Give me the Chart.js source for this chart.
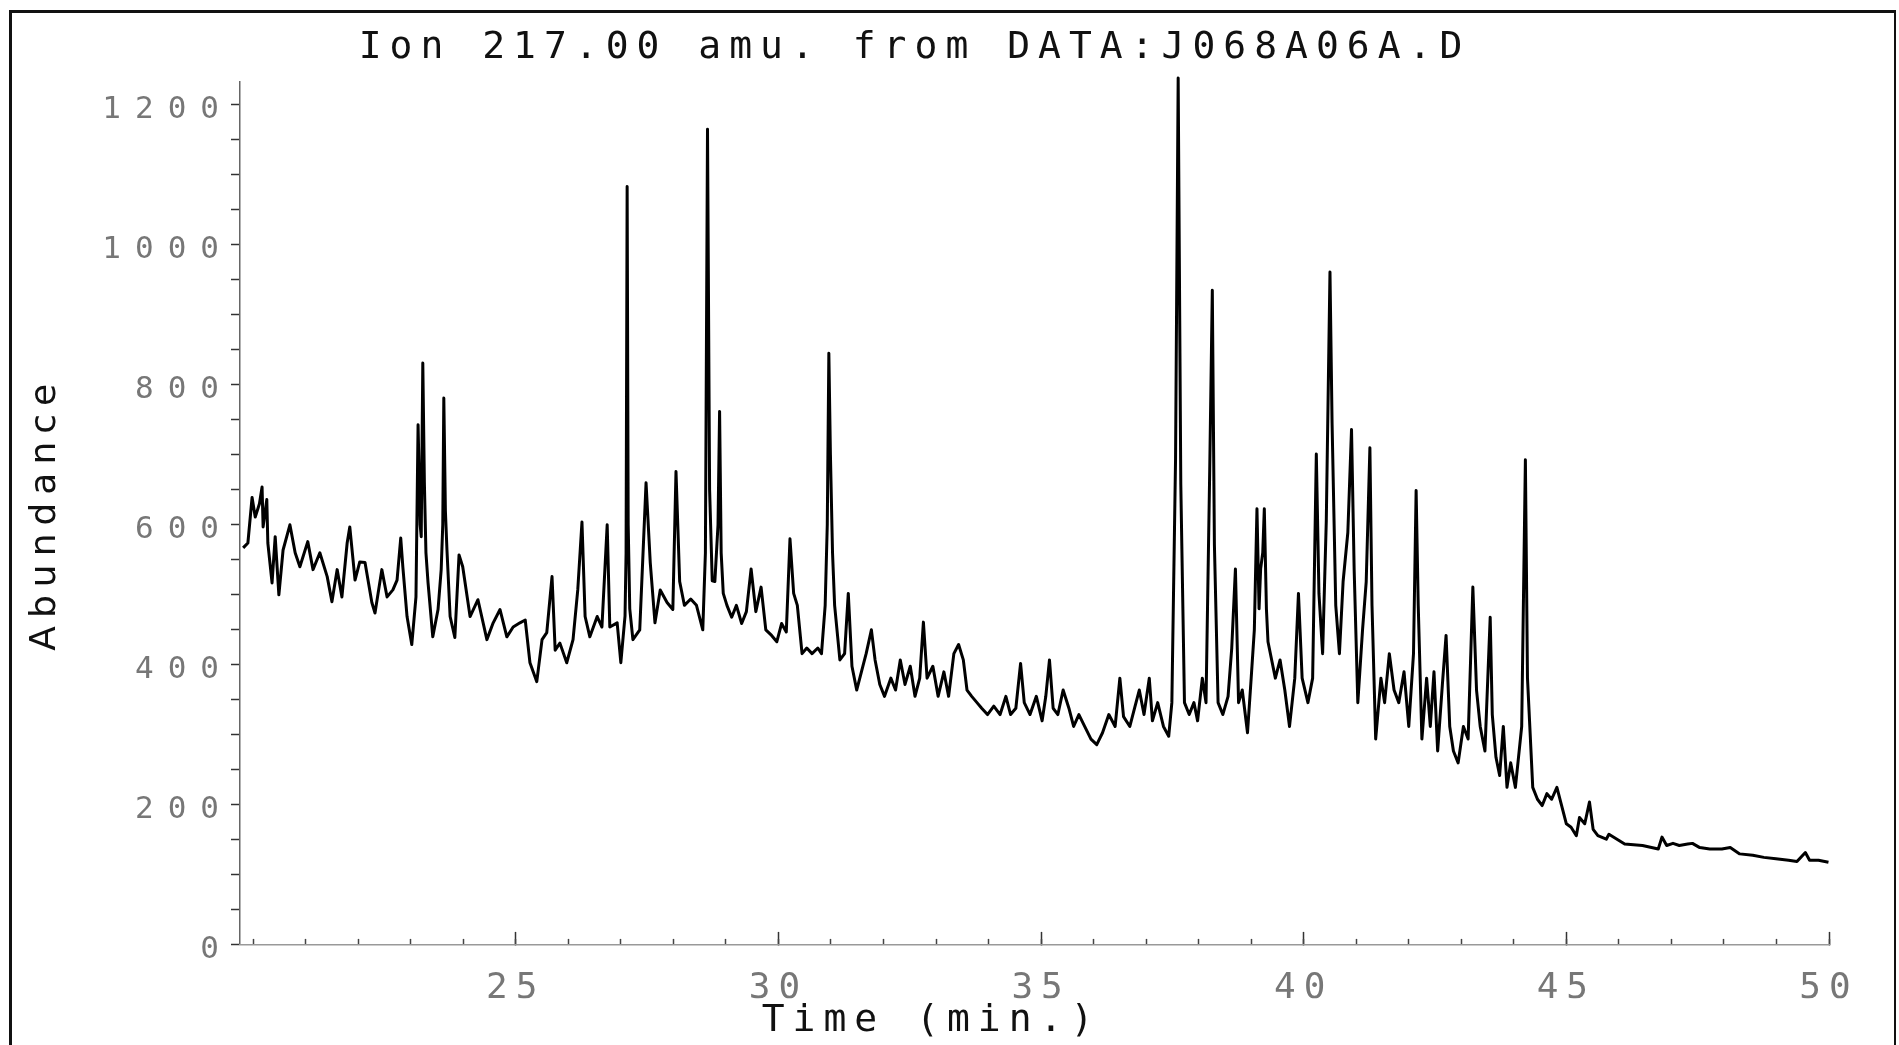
<!DOCTYPE html>
<html>
<head>
<meta charset="utf-8">
<script src="https://cdn.jsdelivr.net/npm/chart.js@4/dist/chart.umd.min.js"></script>
<style>
  html, body { margin: 0; padding: 0; background: #fff; }
  #wrap { position: relative; width: 1899px; height: 1045px; overflow: hidden; background: #fff; }
  #c { position: absolute; left: 0; top: 0; }
  #frame { position: absolute; left: 9px; top: 10px; width: 1882px; height: 1100px;
           border-left: 3px solid #111; border-top: 3px solid #111; border-right: 2px solid #111;
           pointer-events: none; }
</style>
</head>
<body>
<div id="wrap">
  <canvas id="c" width="1899" height="1045"></canvas>
  <div id="frame"></div>
</div>
<script>
// ---------------- data ----------------
const chartTitle = 'Ion 217.00 amu. from DATA:J068A06A.D';
const yAxisTitle = 'Abundance';
const xAxisTitle = 'Time (min.)';
const xMin = 19.75, xMax = 50;
const yMin = 0, yMax = 1233;
const xLabelTicks = [25, 30, 35, 40, 45, 50];
const yLabelTicks = [0, 200, 400, 600, 800, 1000, 1200];

// segment 1: 19.8 - 28.1 min
const time1 = [19.81,19.90,19.98,20.04,20.12,20.17,20.19,20.26,20.28,20.36,
               20.42,20.49,20.57,20.70,20.80,20.89,21.04,21.14,21.27,21.41,
               21.50,21.60,21.69,21.79,21.84,21.94,22.03,22.13,22.26,22.32,
               22.45,22.55,22.66,22.74,22.81,22.85,22.93,23.02,23.10,23.14,
               23.18,23.20,23.23,23.26,23.29,23.33,23.42,23.52,23.58,23.61,
               23.63,23.66,23.69,23.75,23.84,23.92,23.99,24.13,24.28,24.45,
               24.57,24.70,24.83,24.95,25.08,25.18,25.27,25.40,25.50,25.59,
               25.69,25.75,25.84,25.97,26.09,26.18,26.26,26.32,26.41,26.55,
               26.64,26.74,26.79,26.93,27.00,27.08,27.10,27.12,27.14,27.17,
               27.23,27.36,27.48,27.56,27.65,27.75,27.88,27.99,28.05];
const abund1 = [567,574,639,611,630,654,597,636,574,517,
                583,500,564,600,560,540,576,536,560,526,
                490,536,497,574,597,521,547,546,489,474,
                536,497,507,521,581,540,469,429,497,743,
                600,583,831,660,560,517,440,479,536,600,
                781,620,564,469,439,557,540,469,493,436,
                460,479,440,454,460,464,403,376,436,446,
                526,421,431,403,436,507,604,469,440,469,
                454,600,454,460,403,470,560,1083,600,480,
                436,450,660,546,460,507,489,479,676];

// segment 2: 28.1 - 37.5 min
const time2 = [28.12,28.21,28.33,28.44,28.56,28.61,28.65,28.69,28.74,28.79,
               28.85,28.88,28.91,28.95,29.02,29.11,29.20,29.30,29.39,29.48,
               29.57,29.67,29.76,29.87,29.97,30.06,30.15,30.22,30.29,30.36,
               30.45,30.54,30.64,30.75,30.82,30.89,30.93,30.96,30.99,31.03,
               31.07,31.17,31.26,31.33,31.40,31.49,31.58,31.67,31.77,31.84,
               31.93,32.02,32.14,32.23,32.32,32.41,32.51,32.60,32.69,32.76,
               32.83,32.94,33.04,33.15,33.24,33.34,33.43,33.52,33.59,33.68,
               33.78,33.87,33.98,34.10,34.22,34.33,34.42,34.52,34.61,34.68,
               34.79,34.91,35.02,35.09,35.16,35.23,35.32,35.42,35.53,35.62,
               35.72,35.83,35.95,36.06,36.17,36.29,36.41,36.50,36.57,36.69,
               36.78,36.87,36.96,37.06,37.12,37.22,37.33,37.43,37.49];
const abund2 = [519,485,494,485,450,560,1165,650,520,519,
                600,762,560,502,485,468,485,459,476,537,
                476,511,450,442,433,459,447,580,502,485,
                416,424,416,424,416,485,600,845,700,560,
                485,407,416,502,398,364,390,416,450,407,
                372,355,381,364,407,372,398,355,381,461,
                381,398,355,390,355,416,429,407,364,355,
                346,338,329,341,329,355,329,338,402,346,
                329,355,320,355,407,338,329,364,338,312,
                329,312,294,286,303,329,312,381,326,312,
                338,364,329,381,320,346,312,298,346];

// segment 3: 37.5 - 44.3 min
const time3 = [37.56,37.61,37.66,37.73,37.82,37.91,37.98,38.07,38.14,38.21,
               38.26,38.30,38.37,38.46,38.56,38.63,38.70,38.76,38.83,38.93,
               39.00,39.06,39.11,39.15,39.18,39.22,39.25,39.29,39.32,39.39,
               39.46,39.55,39.64,39.73,39.83,39.90,39.97,40.08,40.17,40.24,
               40.29,40.36,40.43,40.50,40.54,40.61,40.68,40.75,40.84,40.91,
               40.96,41.03,41.12,41.19,41.26,41.30,41.37,41.47,41.54,41.63,
               41.72,41.81,41.91,42.00,42.09,42.14,42.18,42.25,42.34,42.41,
               42.48,42.55,42.64,42.71,42.78,42.85,42.94,43.04,43.13,43.22,
               43.29,43.36,43.45,43.55,43.59,43.66,43.73,43.80,43.87,43.94,
               44.03,44.15,44.22,44.26];
const abund3 = [693,1238,658,346,329,346,320,381,346,675,
                935,571,346,329,355,424,537,346,364,303,
                381,450,623,480,537,560,623,480,433,407,
                381,407,364,312,381,502,381,346,381,701,
                502,416,606,961,745,485,416,519,589,736,
                537,346,450,519,710,485,294,381,346,416,
                364,346,390,312,416,649,485,294,381,312,
                390,277,372,442,312,277,260,312,294,511,
                364,312,277,468,329,268,242,312,225,260,
                225,312,693,381];

// segment 4: 44.3 - 50 min
const time4 = [44.36,44.45,44.54,44.63,44.72,44.82,44.91,45.00,45.09,45.19,
               45.25,45.35,45.44,45.51,45.60,45.76,45.81,46.11,46.45,46.75,
               46.82,46.91,47.03,47.15,47.31,47.40,47.54,47.73,47.96,48.12,
               48.30,48.55,48.76,48.99,49.23,49.39,49.55,49.63,49.80,49.99];
const abund4 = [225,208,199,216,208,225,199,173,168,156,
                182,173,204,165,156,151,158,144,142,137,
                154,142,145,142,144,145,139,137,137,139,
                130,128,125,123,121,119,132,121,121,118];

// ---------------- build ----------------
const times = time1.concat(time2, time3, time4);
const values = abund1.concat(abund2, abund3, abund4);
if (times.length !== values.length) console.error('length mismatch', times.length, values.length);
const points = times.map((t, i) => ({ x: t, y: values[i] }));

function withSpacing(scale, px) {
  if (scale._lsPatched) return;
  const orig = scale.drawLabels.bind(scale);
  scale.drawLabels = function (area) {
    const ctx = this.ctx;
    const prev = ctx.letterSpacing;
    ctx.letterSpacing = px + 'px';
    orig(area);
    ctx.letterSpacing = prev;
  };
  scale._lsPatched = true;
}

const spacingPlugin = {
  id: 'spacing',
  beforeDraw(chart) {
    chart.ctx.letterSpacing = '8px';
    // nudge the bottom caption (x-axis caption) slightly right, as in the plot
    const cap = chart.boxes.find(b => b.options && b.options.text === xAxisTitle);
    if (cap && !cap._shifted) {
      const d = cap.draw.bind(cap);
      cap.draw = function (area) {
        const ctx = chart.ctx;
        ctx.save(); ctx.translate(17, 0); d(area); ctx.restore();
      };
      cap._shifted = true;
    }
  }
};

const MONO = 'DejaVu Sans Mono';

new Chart(document.getElementById('c'), {
  type: 'line',
  data: {
    datasets: [{
      data: points,
      borderColor: '#000',
      borderWidth: 3,
      borderJoinStyle: 'round',
      pointRadius: 0,
      tension: 0,
      clip: false,
      fill: false
    }]
  },
  options: {
    responsive: false,
    animation: false,
    devicePixelRatio: 1,
    layout: { padding: { left: 0, right: 70, top: 0, bottom: 0 } },
    plugins: {
      legend: { display: false },
      tooltip: { enabled: false },
      title: {
        display: true, text: chartTitle, color: '#111',
        font: { family: MONO, size: 38, weight: 'normal' },
        padding: { top: 25, bottom: 11 }
      },
      subtitle: {
        display: true, position: 'bottom', text: xAxisTitle, color: '#111',
        font: { family: MONO, size: 38, weight: 'normal' },
        padding: { top: 0, bottom: 1 }
      }
    },
    scales: {
      y: {
        type: 'linear', min: yMin, max: yMax, position: 'left',
        afterFit(s) { s.width = 240; withSpacing(s, 14); },
        border: { display: true, color: '#666', width: 1.5 },
        grid: { drawOnChartArea: false, drawTicks: true, tickLength: 9, tickColor: '#333', tickWidth: 1.5 },
        ticks: {
          stepSize: 50, includeBounds: false, autoSkip: false, padding: -2, labelOffset: 5,
          color: '#777', font: { family: MONO, size: 31 },
          callback: v => yLabelTicks.includes(v) ? String(v) : ''
        },
        title: {
          display: true, text: yAxisTitle, color: '#111',
          font: { family: 'DejaVu Sans', size: 36 },
          padding: { top: 24, bottom: 0 }
        }
      },
      x: {
        type: 'linear', min: xMin, max: xMax, position: 'bottom', weight: 1,
        afterFit(s) { s.height = 53.5; withSpacing(s, 8); },
        border: { display: true, color: '#999', width: 1.5, dash: [3, 4] },
        grid: {
          drawOnChartArea: false, drawTicks: true, tickLength: -13, tickWidth: 1.5,
          tickColor: c => (c.tick && xLabelTicks.includes(c.tick.value)) ? '#333' : 'rgba(0,0,0,0)'
        },
        ticks: {
          stepSize: 5, includeBounds: false, autoSkip: false, maxRotation: 0, minRotation: 0,
          padding: 35, color: '#777', font: { family: MONO, size: 36 },
          callback: v => xLabelTicks.includes(v) ? String(v) : ''
        }
      },
      x2: {
        type: 'linear', min: xMin, max: xMax, position: 'bottom', weight: 0,
        afterFit(s) { s.height = 0; },
        border: { display: false },
        grid: { drawOnChartArea: false, drawTicks: true, tickLength: -6, tickWidth: 1.5, tickColor: '#444' },
        ticks: { stepSize: 1, includeBounds: false, autoSkip: false, display: false }
      }
    }
  },
  plugins: [spacingPlugin]
});
</script>
</body>
</html>
